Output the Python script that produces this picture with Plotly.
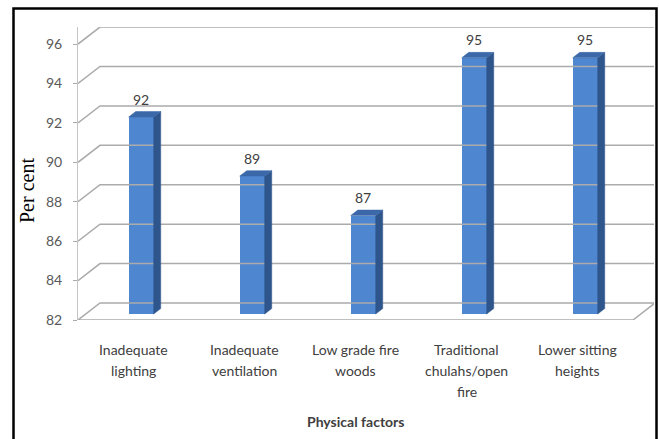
import plotly.graph_objects as go

# ---- data ----
categories = ["Inadequate lighting", "Inadequate ventilation", "Low grade fire woods",
              "Traditional chulahs/open fire", "Lower sitting heights"]
label_lines = [["Inadequate", "lighting"],
               ["Inadequate", "ventilation"],
               ["Low grade fire", "woods"],
               ["Traditional", "chulahs/open", "fire"],
               ["Lower sitting", "heights"]]
values = [92, 89, 87, 95, 95]
y_ticks = [82, 84, 86, 88, 90, 92, 94, 96]
y_title = "Per cent"
x_title = "Physical factors"

# ---- geometry of the oblique 3-D look ----
W, H = 659, 439
ML, MR, MT, MB = 78, 5, 27, 119
Y0 = 82                     # floor value
X_LO, X_HI = -0.5, 4.689
Y_HI = 96.865
DX, DY = 0.198, 0.8625      # depth offset (x units, y units) from front to back wall
F1, F2 = 0.35, 0.67         # depth of bar front / back face
BW = 0.225                  # bar width

plot_h = H - MT - MB
def py(p):
    """pixel row -> paper y"""
    return (H - MB - p) / plot_h

GRID = "#ababab"
FRONT = "#4f86d0"
SIDE = "#2f568c"
TOP = "#3b68a8"
TXT = "#404040"
FONT = "Lato"

fig = go.Figure()

# walls: gridlines on the left wall and back wall
gx, gy = [], []
for v in y_ticks:
    gx += [X_LO, X_LO + DX, 4.5 + DX, None]
    gy += [v, v + DY, v + DY, None]
# floor front edge and right edge
gx += [X_LO, 4.5, 4.5 + DX, None]
gy += [Y0, Y0, Y0 + DY, None]
fig.add_trace(go.Scatter(x=gx, y=gy, mode="lines", line=dict(color=GRID, width=1.5),
                         hoverinfo="skip", showlegend=False))

# bar side and top faces
for i, v in enumerate(values):
    xl = i - BW / 2 + F1 * DX
    xr = i + BW / 2 + F1 * DX
    base = Y0 + F1 * DY
    top = v + F1 * DY
    ddx, ddy = (F2 - F1) * DX, (F2 - F1) * DY
    fig.add_trace(go.Scatter(x=[xr, xr, xr + ddx, xr + ddx, xr],
                             y=[base, top, top + ddy, base + ddy, base],
                             mode="lines", fill="toself", fillcolor=SIDE,
                             line=dict(color=SIDE, width=0.5),
                             hoverinfo="skip", showlegend=False))
    fig.add_trace(go.Scatter(x=[xl, xl + ddx, xr + ddx, xr, xl],
                             y=[top, top + ddy, top + ddy, top, top],
                             mode="lines", fill="toself", fillcolor=TOP,
                             line=dict(color=TOP, width=0.5),
                             hoverinfo="skip", showlegend=False))

# bar front faces
fig.add_trace(go.Bar(x=[i + F1 * DX for i in range(len(values))],
                     y=[v - Y0 for v in values],
                     base=[Y0 + F1 * DY] * len(values),
                     width=BW, marker=dict(color=FRONT, line=dict(width=0)),
                     hovertext=categories, showlegend=False))

annotations = []
# value labels
for i, v in enumerate(values):
    annotations.append(dict(x=i + F1 * DX, y=v + F2 * DY, xref="x", yref="y",
                            text=str(v), showarrow=False, yanchor="bottom", yshift=2,
                            font=dict(family=FONT, size=14, color=TXT)))
# category labels
for i, lines in enumerate(label_lines):
    for k, line in enumerate(lines):
        annotations.append(dict(x=i, y=py(349 + 21 * k), xref="x", yref="paper",
                                text=line, showarrow=False, xanchor="center",
                                yanchor="middle",
                                font=dict(family=FONT, size=14, color=TXT)))
# axis titles
annotations.append(dict(x=2, y=py(421), xref="x", yref="paper", text="<b>" + x_title + "</b>",
                        showarrow=False, yanchor="middle",
                        font=dict(family=FONT, size=14, color=TXT)))
annotations.append(dict(x=(27 - ML) / (W - ML - MR), y=py(191), xref="paper", yref="paper",
                        text=y_title, textangle=-90, showarrow=False,
                        xanchor="center", yanchor="middle",
                        font=dict(family="Liberation Serif", size=20, color="black")))

# chart frame
pw = W - ML - MR
fig.add_shape(type="rect", xref="paper", yref="paper",
              x0=(13.5 - ML) / pw, x1=(656.5 - ML) / pw, y0=py(450), y1=py(8.5),
              line=dict(color="black", width=2.5), fillcolor="rgba(0,0,0,0)", layer="above")

fig.update_layout(
    width=W, height=H,
    margin=dict(l=ML, r=MR, t=MT, b=MB),
    paper_bgcolor="white", plot_bgcolor="white",
    bargap=0,
    annotations=annotations,
    xaxis=dict(range=[X_LO, X_HI], showgrid=False, zeroline=False, showticklabels=False,
               ticks="", showline=False, fixedrange=True),
    yaxis=dict(range=[Y0, Y_HI], tickvals=y_ticks, showgrid=False, zeroline=False,
               showline=True, linecolor="#c4c4c4", linewidth=1,
               ticks="outside", ticklen=4, tickcolor=GRID,
               ticklabelstandoff=8,
               tickfont=dict(family=FONT, size=14, color="#595959"), fixedrange=True),
)

fig.write_html("out.html")
